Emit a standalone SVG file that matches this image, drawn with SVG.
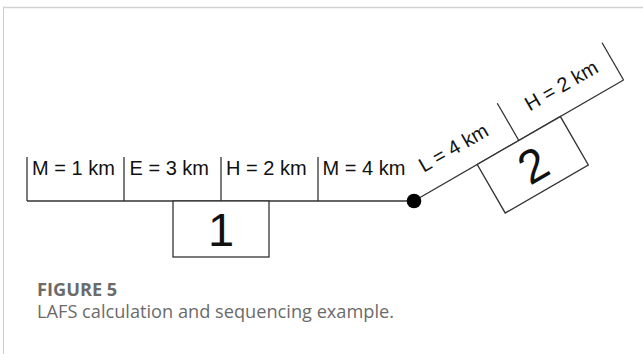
<svg xmlns="http://www.w3.org/2000/svg" width="643" height="354" viewBox="0 0 643 354">
<style>
.ln{stroke:#333;stroke-width:1.3;fill:none}
.bx{stroke:#333;stroke-width:1.3;fill:#fff}
.lb{font-family:"Liberation Sans",Arial,sans-serif;font-size:20px;fill:#111}
.num{font-family:"Liberation Sans",Arial,sans-serif;font-size:47px;fill:#111;text-anchor:middle}
.cap{font-family:"Open Sans","Noto Sans",sans-serif;font-size:18.2px;fill:#6b6b6b}
</style>
<rect width="643" height="354" fill="#fff"/>
<g id="frame">
<line x1="3" y1="7.5" x2="643" y2="7.5" stroke="#d2d2d2" stroke-width="1.6"/>
<line x1="3.5" y1="7" x2="3.5" y2="354" stroke="#cccccc" stroke-width="1"/>
</g>
<g id="connectors">
<line class="ln" x1="27" y1="201" x2="414" y2="201"/>
<g transform="translate(414,201) rotate(-30)">
<line class="ln" x1="0" y1="0" x2="242" y2="0"/>
</g>
</g>
<g id="seg-m1">
<line class="ln" x1="27" y1="157" x2="27" y2="201"/>
<text class="lb" x="32" y="175">M = 1 km</text>
</g>
<g id="seg-e3">
<line class="ln" x1="124" y1="157" x2="124" y2="201"/>
<text class="lb" x="129.5" y="175">E = 3 km</text>
</g>
<g id="seg-h2">
<line class="ln" x1="221" y1="157" x2="221" y2="201"/>
<text class="lb" x="226" y="175">H = 2 km</text>
</g>
<g id="seg-m4">
<line class="ln" x1="318" y1="157" x2="318" y2="201"/>
<text class="lb" x="322.5" y="175">M = 4 km</text>
</g>
<g id="box1">
<rect class="bx" x="173" y="201" width="96" height="56"/>
<text class="num" x="221" y="246">1</text>
</g>
<g id="junction">
<circle cx="414" cy="201" r="7.3" fill="#000"/>
</g>
<g id="seg-l4" transform="translate(414,201) rotate(-30)">
<text class="lb" x="22.5" y="-19.5">L = 4 km</text>
</g>
<g id="seg-h2b" transform="translate(414,201) rotate(-30)">
<line class="ln" x1="121" y1="0" x2="121" y2="-43"/>
<line class="ln" x1="242" y1="0" x2="242" y2="-43"/>
<text class="lb" x="145" y="-19.5">H = 2 km</text>
</g>
<g id="box2" transform="translate(414,201) rotate(-30)">
<rect class="bx" x="73" y="0" width="96" height="56"/>
<text class="num" x="121" y="45">2</text>
</g>
<g id="caption">
<text class="cap" x="37" y="296" font-weight="bold">FIGURE 5</text>
<text class="cap" x="37" y="318">LAFS calculation and sequencing example.</text>
</g>
</svg>
